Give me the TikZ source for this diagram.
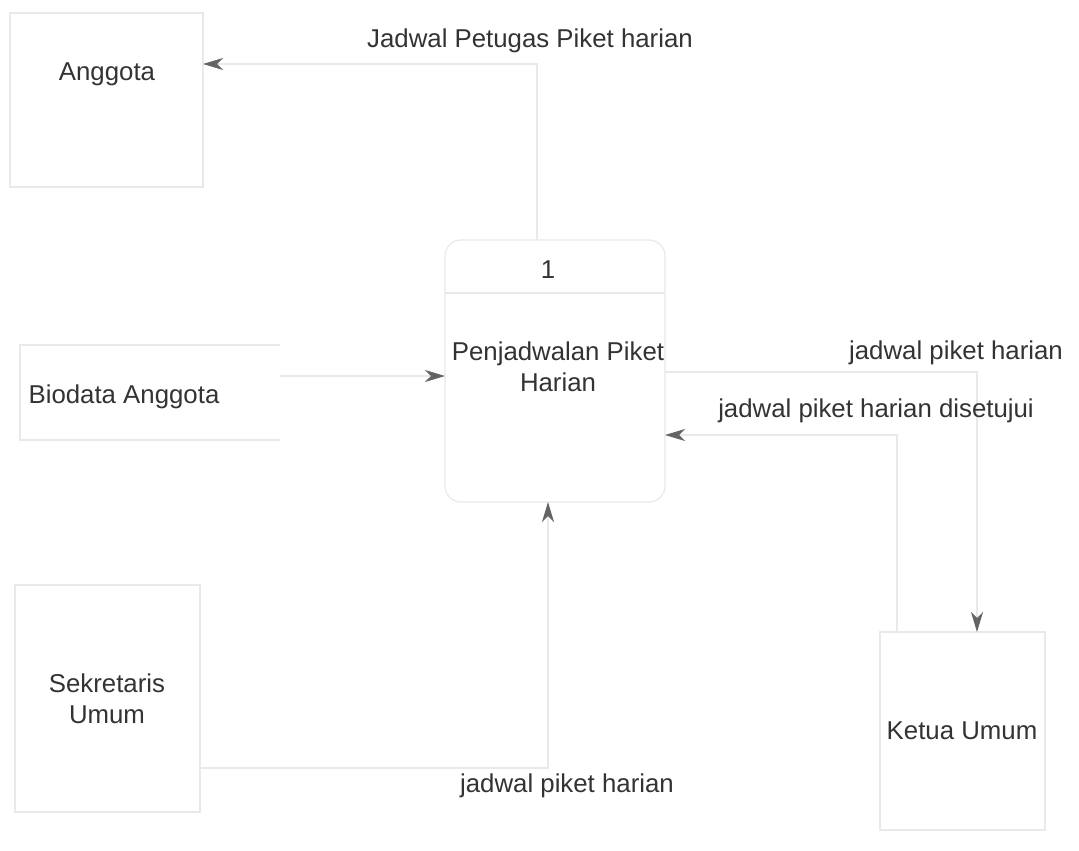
\documentclass[tikz,border=0pt]{standalone}
\usepackage{fontspec}
\setmainfont{Liberation Sans}
\usetikzlibrary{arrows.meta,calc}
\definecolor{inkgray}{HTML}{333333}
\definecolor{tipgray}{HTML}{646464}
\definecolor{fadegray}{HTML}{E9E9E9}
\begin{document}
\begin{tikzpicture}[x=0.5pt,y=-0.5pt,
  txt/.style={text=inkgray,font=\fontsize{12.9}{15.5}\selectfont,align=center,inner sep=0pt},
  shapebox/.style={draw=fadegray,line width=0.6pt,inner sep=0pt,outer sep=0pt},
  flow/.style={draw=fadegray,line width=0.6pt,
    -{Stealth[length=10pt,width=6pt,inset=3pt,color=tipgray]}}]
\useasboundingbox[fill=white] (0,0) rectangle (1079,850);

% external entities
\node[shapebox,minimum width=96.5pt,minimum height=87pt] (anggota) at (106.5,100) {};
\node[shapebox,minimum width=92.5pt,minimum height=113.5pt] (sekum) at (107.5,698.5) {};
\node[shapebox,minimum width=82.5pt,minimum height=99pt] (ketum) at (962.5,731) {};

% data store
\node[inner sep=0pt,outer sep=0pt,minimum width=130pt,minimum height=47.5pt] (biodata) at (150,392.5) {};
\draw[fadegray,line width=0.6pt] (biodata.north east) -- (biodata.north west)
  -- (biodata.south west) -- (biodata.south east);

% process
\node[shapebox,rounded corners=8pt,minimum width=110pt,minimum height=131pt] (proc) at (555,371) {};
\draw[fadegray,line width=0.6pt] ($(proc.west)+(0,-78)$) -- ($(proc.east)+(0,-78)$);

% texts
\node[txt] (tanggota) at (107,74) {Anggota};
\node[txt] (tbiodata) at (124,397) {Biodata Anggota};
\node[txt] (tsekum) at (107,699) {Sekretaris\\Umum};
\node[txt] (tketum) at (962,731) {Ketua Umum};
\node[txt] (tprocid) at (548,270) {1};
\node[txt] (tprocname) at (558,367) {Penjadwalan Piket\\Harian};

% data flows
\draw[flow] ($(proc.north)+(-18,0)$) |- ($(anggota.east)+(0,-36)$);
\draw[flow] ($(biodata.east)+(0,-16.5)$) -- ($(proc.west)+(0,5)$);
\draw[flow] ($(proc.east)+(0,1)$) -| ($(ketum.north)+(14.5,0)$);
\draw[flow] ($(ketum.north)+(-65.5,0)$) |- ($(proc.east)+(0,64)$);
\draw[flow] ($(sekum.east)+(0,69.5)$) -| ($(proc.south)+(-7,0)$);

% flow labels
\node[txt] (ljadwalpetugas) at (530,41) {Jadwal Petugas Piket harian};
\node[txt] (ljadwalkanan) at (956,353) {jadwal piket harian};
\node[txt] (lsetuju) at (876,411) {jadwal piket harian disetujui};
\node[txt] (ljadwalbawah) at (567,786) {jadwal piket harian};
\end{tikzpicture}
\end{document}
